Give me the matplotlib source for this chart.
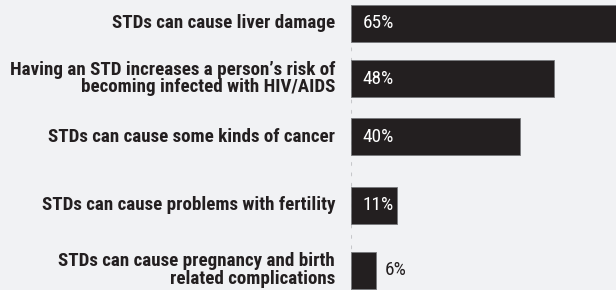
import matplotlib
matplotlib.use('Agg')
import matplotlib.pyplot as plt

labels = ['STDs can cause liver damage',
          'Having an STD increases a person\u2019s risk of\nbecoming infected with HIV/AIDS',
          'STDs can cause some kinds of cancer',
          'STDs can cause problems with fertility',
          'STDs can cause pregnancy and birth\nrelated complications']
values = [65, 48, 40, 11, 6]

# layout (pixel rows of the bar centres in the original)
ypos = [23.5, 78.5, 136.5, 205, 270]
bg = '#f1f2f4'
dark = '#231f20'
font = ['Roboto Condensed', 'Liberation Sans Narrow', 'Roboto', 'DejaVu Sans']

fig = plt.figure(figsize=(6.16, 2.90), dpi=100, facecolor=bg)
ax = fig.add_axes([351 / 616, 0, 1 - 351 / 616, 1])
ax.set_facecolor(bg)
ax.barh(ypos, values, height=37, color=dark, edgecolor='#77787b', linewidth=0.6, zorder=2)
ax.set_xlim(0, 62.8)
ax.set_ylim(290, 0)
ax.axvline(0, color='#c6c7ca', lw=1.5, dashes=[1, 4], dash_capstyle='round', zorder=1)

# pick font sizes so the text widths match the original
r = fig.canvas.get_renderer()
t = fig.text(0, 0, labels[1].split('\n')[0], fontsize=10, family=font, fontweight=900)
lab_size = 10 * 326 / t.get_window_extent(r).width
t.remove()
t = fig.text(0, 0, '65%', fontsize=10, family=font)
val_size = 10 * 31 / t.get_window_extent(r).width
t.remove()

for y, v, lab in zip(ypos, values, labels):
    if v >= 10:
        ax.text(2.8, y, '%d%%' % v, color='white', fontsize=val_size, family=font,
                ha='left', va='center', zorder=3)
    else:
        ax.text(v + 1.9, y, '%d%%' % v, color=dark, fontsize=val_size, family=font,
                ha='left', va='center', zorder=3)
    ax.text(-16 / 4.22, y, lab, color=dark, fontsize=lab_size, family=font, fontweight=900,
            ha='right', va='center', multialignment='right', linespacing=0.95,
            clip_on=False)

for s in ax.spines.values():
    s.set_visible(False)
ax.set_xticks([])
ax.set_yticks([])

fig.savefig('out.png', dpi=100, facecolor=bg)
